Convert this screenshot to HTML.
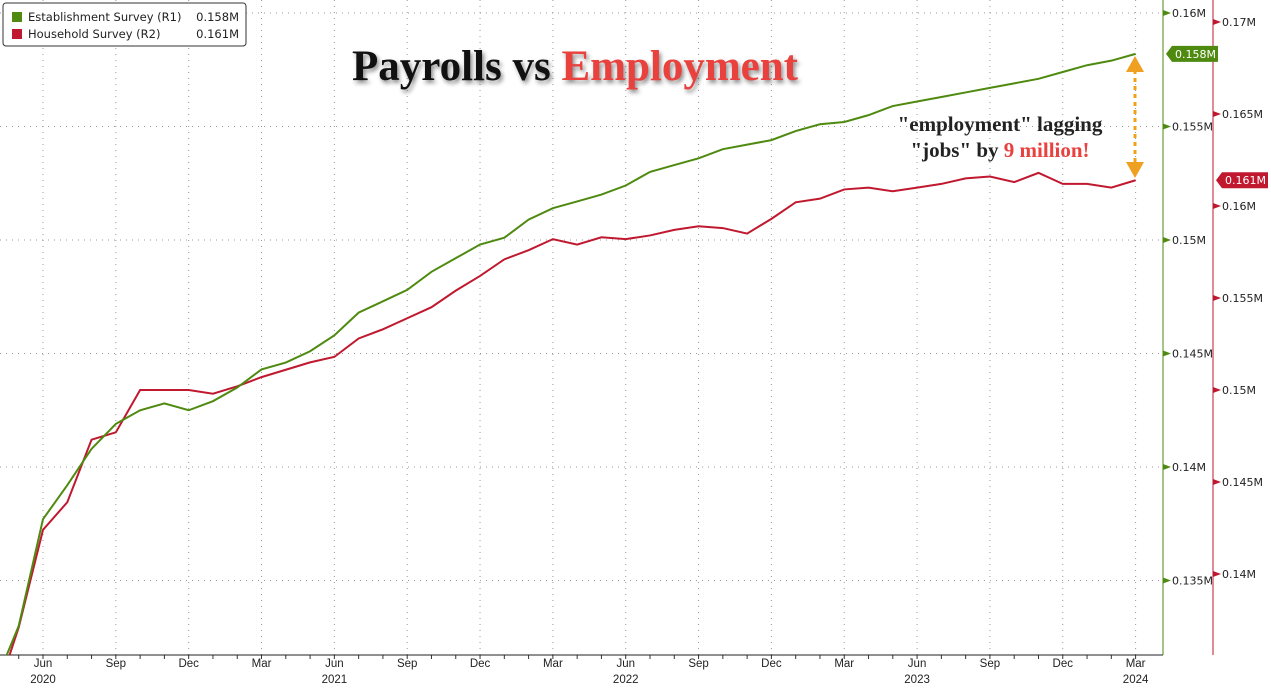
<!DOCTYPE html>
<html><head><meta charset="utf-8"><style>
body{margin:0;background:#fff;width:1271px;height:690px;overflow:hidden;font-family:"DejaVu Sans","Liberation Sans",sans-serif}
</style></head><body>
<svg id="chart" width="1271" height="690" xmlns="http://www.w3.org/2000/svg">
<g id="grid"></g>
<g id="axes"></g>
<g id="series"></g>
<g>
<rect x="3" y="3" width="243" height="43" rx="3" fill="#fff" stroke="#333" stroke-width="1"/>
<rect x="12" y="12" width="10" height="10" fill="#4f8a10"/>
<rect x="12" y="29" width="10" height="10" fill="#c0182f"/>
<text x="28" y="21" font-size="11.5" fill="#222">Establishment Survey (R1)</text>
<text x="28" y="38" font-size="11.5" fill="#222">Household Survey (R2)</text>
<text x="239" y="21" font-size="11.5" fill="#222" text-anchor="end">0.158M</text>
<text x="239" y="38" font-size="11.5" fill="#222" text-anchor="end">0.161M</text>
</g>
<text x="575" y="80" font-family="Liberation Serif,serif" font-weight="bold" font-size="43" text-anchor="middle" style="filter:drop-shadow(2px 3px 2px rgba(0,0,0,0.45))"><tspan fill="#111">Payrolls vs </tspan><tspan fill="#e8413e">Employment</tspan></text>
<text x="1000" y="131" font-family="Liberation Serif,serif" font-weight="bold" font-size="21" text-anchor="middle" fill="#222">"employment" lagging</text>
<text x="1000" y="157" font-family="Liberation Serif,serif" font-weight="bold" font-size="21" text-anchor="middle" fill="#222">"jobs" by <tspan fill="#e8413e">9 million!</tspan></text>
<g>
<line x1="1135" y1="70" x2="1135" y2="164" stroke="#f0a020" stroke-width="3" stroke-dasharray="4,4"/>
<polygon points="1126,72 1144,72 1135,56" fill="#f0a020"/>
<polygon points="1126,162 1144,162 1135,178" fill="#f0a020"/>
</g>
</svg>
<script>
const months=["Apr20","May20","Jun20","Jul20","Aug20","Sep20","Oct20","Nov20","Dec20","Jan21","Feb21","Mar21","Apr21","May21","Jun21","Jul21","Aug21","Sep21","Oct21","Nov21","Dec21","Jan22","Feb22","Mar22","Apr22","May22","Jun22","Jul22","Aug22","Sep22","Oct22","Nov22","Dec22","Jan23","Feb23","Mar23","Apr23","May23","Jun23","Jul23","Aug23","Sep23","Oct23","Nov23","Dec23","Jan24","Feb24","Mar24"];
const establishment=[0.1304,0.1330,0.1377,0.1392,0.1408,0.1419,0.1425,0.1428,0.1425,0.1429,0.1435,0.1443,0.1446,0.1451,0.1458,0.1468,0.1473,0.1478,0.1486,0.1492,0.1498,0.1501,0.1509,0.1514,0.1517,0.1520,0.1524,0.1530,0.1533,0.1536,0.1540,0.1542,0.1544,0.1548,0.1551,0.1552,0.1555,0.1559,0.1561,0.1563,0.1565,0.1567,0.1569,0.1571,0.1574,0.1577,0.1579,0.1582];
const household=[0.1331,0.1371,0.1424,0.1439,0.1473,0.1477,0.1500,0.1500,0.1500,0.1498,0.1502,0.1507,0.1511,0.1515,0.1518,0.1528,0.1533,0.1539,0.1545,0.1554,0.1562,0.1571,0.1576,0.1582,0.1579,0.1583,0.1582,0.1584,0.1587,0.1589,0.1588,0.1585,0.1593,0.1602,0.1604,0.1609,0.1610,0.1608,0.1610,0.1612,0.1615,0.1616,0.1613,0.1618,0.1612,0.1612,0.1610,0.1614];
const leftTicks=[0.135,0.14,0.145,0.15,0.155,0.16];
const rightTicks=[0.14,0.145,0.15,0.155,0.16,0.165,0.17];
const xLabels=[[2,"Jun","2020"],[5,"Sep",""],[8,"Dec",""],[11,"Mar",""],[14,"Jun","2021"],[17,"Sep",""],[20,"Dec",""],[23,"Mar",""],[26,"Jun","2022"],[29,"Sep",""],[32,"Dec",""],[35,"Mar",""],[38,"Jun","2023"],[41,"Sep",""],[44,"Dec",""],[47,"Mar","2024"]];
const NS="http://www.w3.org/2000/svg";
const X0=43,DX=24.28,PR=1163,PB=655;
const x=i=>X0+(i-2)*DX;
const yL=v=>13+(0.16-v)/0.005*113.5;
const yR=v=>22+(0.17-v)/0.005*92;
function mk(p,t,a){const e=document.createElementNS(NS,t);for(const k in a)e.setAttribute(k,a[k]);document.getElementById(p).appendChild(e);return e;}
leftTicks.forEach(v=>{
 const g=mk('grid','line',{x1:0,x2:PR,y1:yL(v),y2:yL(v),stroke:'#999','stroke-dasharray':'1,5'});
 
 
 const tk=mk('axes','polygon',{points:`${PR},${yL(v)-3} ${PR+8},${yL(v)} ${PR},${yL(v)+3}`,fill:'#4f8a10'});
 
 
 const t=mk('axes','text',{x:PR+9,y:yL(v)+4,'font-size':11,fill:'#222'});t.textContent=v+'M';
 
 
});
rightTicks.forEach(v=>{
 const tk=mk('axes','polygon',{points:`1213,${yR(v)-3} 1221,${yR(v)} 1213,${yR(v)+3}`,fill:'#c0182f'});
 
 
 const t=mk('axes','text',{x:1222,y:yR(v)+4,'font-size':11,fill:'#222'});t.textContent=v+'M';
 
 
});
xLabels.forEach(([i,m,yr])=>{
 const g=mk('grid','line',{x1:x(i),x2:x(i),y1:0,y2:PB,stroke:'#999','stroke-dasharray':'1,5'});
 
 
 const t=mk('axes','text',{x:x(i),y:667,'font-size':11.5,fill:'#222','text-anchor':'middle','font-family':'Liberation Sans,sans-serif'});t.textContent=m;
 
 
 if(yr){const y=mk('axes','text',{x:x(i),y:683,'font-size':11.5,fill:'#222','text-anchor':'middle','font-family':'Liberation Sans,sans-serif'});y.textContent=yr;
 
 }
});
months.forEach((m,i)=>{const tk=mk('axes','line',{x1:x(i),x2:x(i),y1:PB,y2:PB+4,stroke:'#333'});
 
 });
let a=mk('axes','line',{x1:0,x2:PR,y1:PB,y2:PB,stroke:'#222'});


a=mk('axes','line',{x1:PR,x2:PR,y1:0,y2:PB,stroke:'#4f8a10'});


a=mk('axes','line',{x1:1213,x2:1213,y1:0,y2:PB,stroke:'#c0182f'});


const cp=mk('series','clipPath',{id:'clip'});const r=document.createElementNS(NS,'rect');r.setAttribute('x',0);r.setAttribute('y',0);r.setAttribute('width',PR);r.setAttribute('height',PB);cp.appendChild(r);
let l=mk('series','polyline',{points:household.map((v,i)=>x(i)+','+yR(v)).join(' '),fill:'none',stroke:'#c0182f','stroke-width':2,'clip-path':'url(#clip)'});


l=mk('series','polyline',{points:establishment.map((v,i)=>x(i)+','+yL(v)).join(' '),fill:'none',stroke:'#4f8a10','stroke-width':2,'clip-path':'url(#clip)'});


function badge(y,color,txt,x0,name){
 const p=mk('axes','polygon',{points:`${x0},${y} ${x0+6},${y-8} ${x0+52},${y-8} ${x0+52},${y+8} ${x0+6},${y+8}`,fill:color});
 
 
 const t=mk('axes','text',{x:x0+9,y:y+4,'font-size':11,fill:'#fff'});t.textContent=txt;
 
 
}
const gl=establishment[establishment.length-1],hl=household[household.length-1];
badge(yL(gl),'#4f8a10',gl.toFixed(3)+'M',1166,'r1-last-value');
badge(yR(hl),'#c0182f',hl.toFixed(3)+'M',1216,'r2-last-value');
</script>
</body></html>
